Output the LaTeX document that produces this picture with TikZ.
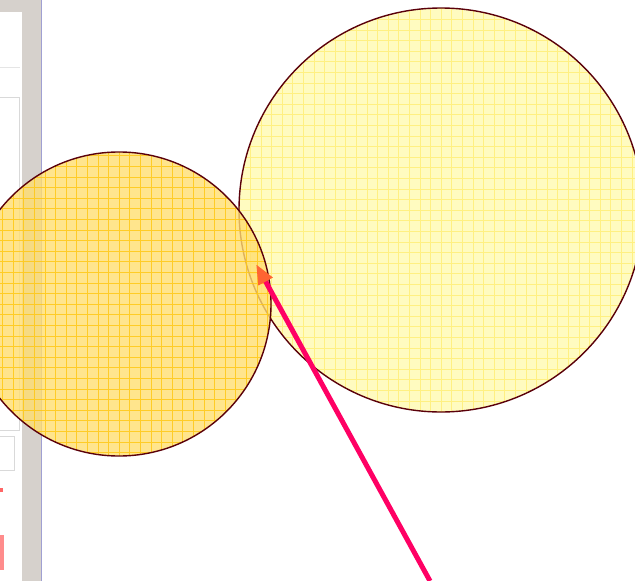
\documentclass[tikz,border=0pt]{standalone}
\usetikzlibrary{arrows.meta}
\definecolor{panelgrey}{RGB}{214,209,204}
\definecolor{panelline}{RGB}{160,160,210}
\definecolor{rimbrown}{RGB}{90,0,10}
\definecolor{sunfill}{RGB}{255,222,112}
\definecolor{sungrid}{RGB}{255,200,20}
\definecolor{palefill}{RGB}{255,251,192}
\definecolor{palegrid}{RGB}{255,240,130}
\definecolor{pointerpink}{RGB}{255,0,100}
\definecolor{tiporange}{RGB}{255,100,50}
\begin{document}
\begin{tikzpicture}[x=1pt, y=-1pt,
    disc/.style={circle, draw=rimbrown, line width=1.4pt, inner sep=0pt},
    sundisc/.style={disc, minimum size=304pt, fill=sunfill, fill opacity=0.8, draw opacity=1,
        path picture={\draw[sungrid, line width=0.6pt, opacity=0.85, step=10.6pt]
            (path picture bounding box.south west) grid (path picture bounding box.north east);}},
    palediscbox/.style={disc, minimum size=404pt, fill=palefill,
        path picture={\draw[palegrid, line width=0.6pt, step=10.6pt]
            (path picture bounding box.south west) grid (path picture bounding box.north east);}},
    panelbox/.style={draw=black!15, fill=white, line width=0.6pt},
    pointer/.style={-{Triangle[length=20pt, width=15pt, color=tiporange]}, pointerpink, line width=5pt}
]
\useasboundingbox (0,0) rectangle (635,581);
\clip (0,0) rectangle (635,581);
% Side panel
\fill[panelgrey] (0,0) rectangle (42,581);
\fill[white] (0,12) rectangle (22,581);
\draw[black!10] (0,67) -- (20,67);
\draw[panelbox] (-2,97) rectangle (19,430);
\draw[panelbox] (-2,436) rectangle (14,470);
\fill[red!60] (0,488) rectangle (3,492);
\fill[red!45] (0,535) rectangle (4,570);
\draw[panelline, line width=1pt] (41.5,0) -- (41.5,581);
% Circles
\node[palediscbox] (big) at (441,210) {};
\node[sundisc] (small) at (119,304) {};
% Pointer
\coordinate (tail) at (430,581);
\coordinate (tip) at (256,264);
\draw[pointer] (tail) -- (tip);
\end{tikzpicture}
\end{document}
